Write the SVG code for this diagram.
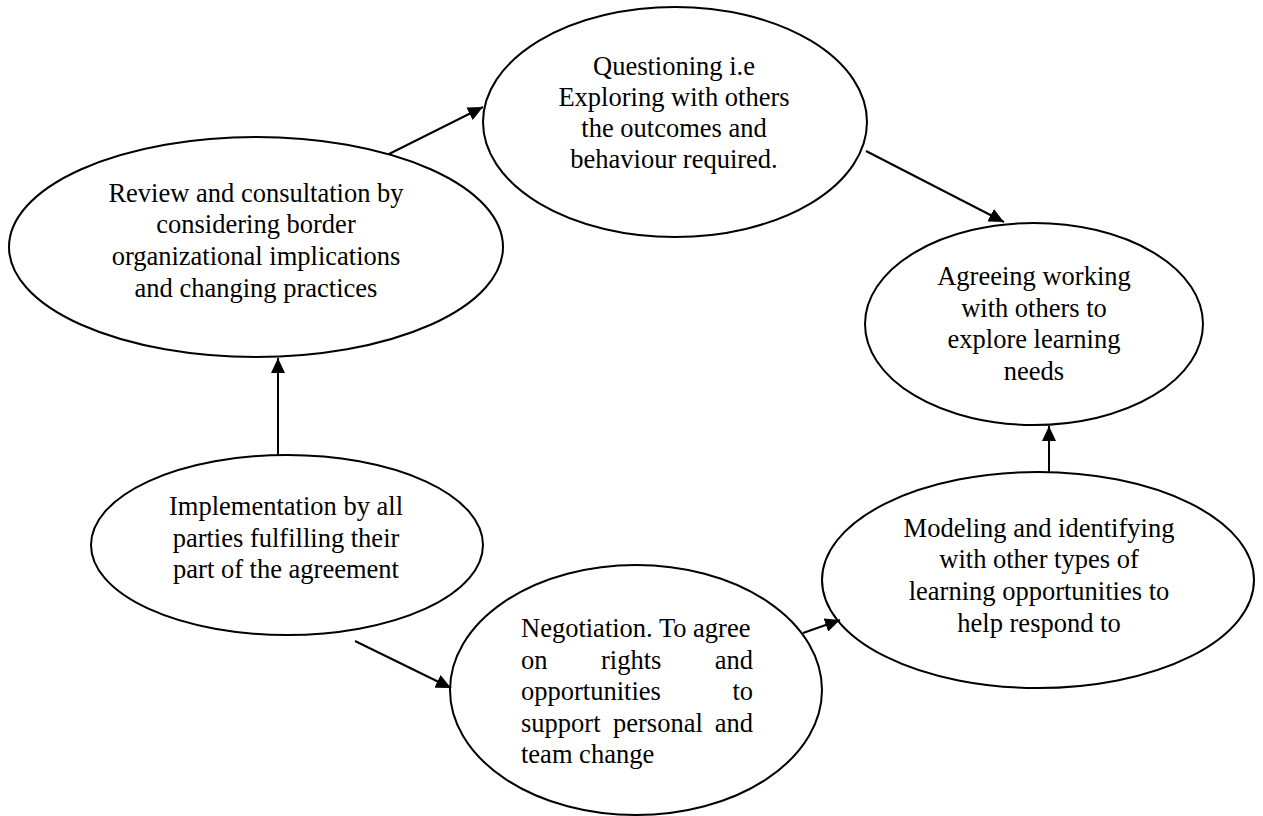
<svg xmlns="http://www.w3.org/2000/svg" width="1263" height="816" viewBox="0 0 1263 816">
<style>
.node ellipse { fill: #ffffff; stroke: #000000; stroke-width: 2; }
.node text { font-family: "Liberation Serif", "Times New Roman", serif; font-size: 26.5px; fill: #000000; }
.c { text-anchor: middle; }
.e { text-anchor: end; }
.edges line { stroke: #000000; stroke-width: 2; marker-end: url(#arrow); }
</style>
<defs>
<marker id="arrow" markerUnits="userSpaceOnUse" markerWidth="15" markerHeight="14" refX="15" refY="7" orient="auto">
<path d="M0,0 L15,7 L0,14 Z" fill="#000000"/>
</marker>
</defs>
<rect x="0" y="0" width="1263" height="816" fill="#ffffff"/>

<g id="review" class="node">
<ellipse cx="256" cy="247" rx="247" ry="110"/>
<text class="c" x="256" y="202">Review and consultation by</text>
<text class="c" x="256" y="233">considering border</text>
<text class="c" x="256" y="265">organizational implications</text>
<text class="c" x="256" y="297">and changing practices</text>
</g>

<g id="questioning" class="node">
<ellipse cx="675" cy="122" rx="192" ry="115"/>
<text class="c" x="674" y="75">Questioning i.e</text>
<text class="c" x="674" y="106">Exploring with others</text>
<text class="c" x="674" y="137">the outcomes and</text>
<text class="c" x="674" y="168">behaviour required.</text>
</g>

<g id="agreeing" class="node">
<ellipse cx="1034" cy="324" rx="169" ry="101"/>
<text class="c" x="1034" y="285">Agreeing working</text>
<text class="c" x="1034" y="317">with others to</text>
<text class="c" x="1034" y="348">explore learning</text>
<text class="c" x="1034" y="380">needs</text>
</g>

<g id="implementation" class="node">
<ellipse cx="287" cy="545" rx="196" ry="90"/>
<text class="c" x="286" y="515">Implementation by all</text>
<text class="c" x="286" y="547">parties fulfilling their</text>
<text class="c" x="286" y="578">part of the agreement</text>
</g>

<g id="negotiation" class="node">
<ellipse cx="636" cy="690" rx="186" ry="125"/>
<text x="521" y="637">Negotiation. To agree</text>
<text x="521" y="669">on</text>
<text x="601" y="669">rights</text>
<text class="e" x="753" y="669">and</text>
<text x="521" y="700">opportunities</text>
<text class="e" x="753" y="700">to</text>
<text x="521" y="732">support</text>
<text x="613" y="732">personal</text>
<text class="e" x="753" y="732">and</text>
<text x="521" y="763">team change</text>
</g>

<g id="modeling" class="node">
<ellipse cx="1038" cy="580" rx="216" ry="108"/>
<text class="c" x="1039" y="537">Modeling and identifying</text>
<text class="c" x="1039" y="568">with other types of</text>
<text class="c" x="1039" y="600">learning opportunities to</text>
<text class="c" x="1039" y="632">help respond to</text>
</g>

<g id="connectors" class="edges">
<line x1="278" y1="455" x2="278" y2="358"/>
<line x1="389" y1="154" x2="483" y2="107"/>
<line x1="866" y1="151" x2="1004" y2="222"/>
<line x1="1049" y1="472" x2="1049" y2="426"/>
<line x1="803" y1="633" x2="840" y2="620"/>
<line x1="355" y1="641" x2="451" y2="688"/>
</g>
</svg>
